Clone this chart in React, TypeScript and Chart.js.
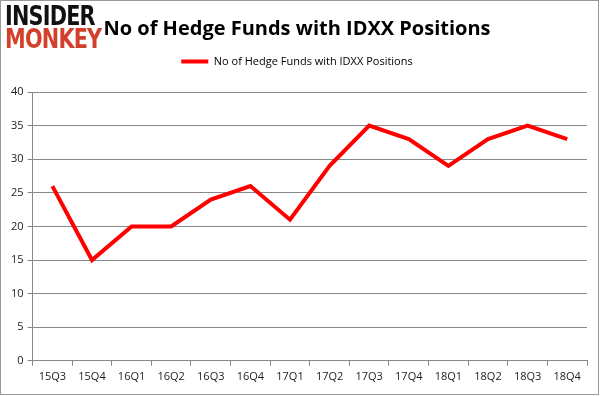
import React, { useEffect, useRef } from "react";
import { Chart, registerables } from "chart.js";

Chart.register(...registerables);

const categories = ["15Q3", "15Q4", "16Q1", "16Q2", "16Q3", "16Q4", "17Q1", "17Q2", "17Q3", "17Q4", "18Q1", "18Q2", "18Q3", "18Q4"];
const hedgeFunds = [26, 15, 20, 20, 24, 26, 21, 29, 35, 33, 29, 33, 35, 33];
const seriesLabel = "No of Hedge Funds with IDXX Positions";
const titleText = "No of Hedge Funds with IDXX Positions";

const legendGap = {
  id: "legendGap",
  beforeInit(chart: any) {
    const lg = chart.legend;
    if (!lg) return;
    const orig = lg.fit;
    lg.fit = function () {
      orig.call(this);
      this.height += 15;
    };
  },
};

export default function App() {
  const ref = useRef<HTMLCanvasElement>(null);
  useEffect(() => {
    if (!ref.current) return;
    const chart = new Chart(ref.current, {
      type: "line",
      data: {
        labels: categories,
        datasets: [
          {
            label: seriesLabel,
            data: hedgeFunds,
            borderColor: "#ff0000",
            backgroundColor: "#ff0000",
            borderWidth: 4,
            pointRadius: 0,
            tension: 0,
          },
        ],
      },
      plugins: [legendGap],
      options: {
        animation: false,
        responsive: false,
        maintainAspectRatio: false,
        layout: { padding: { left: 6, right: 12, top: 6, bottom: 8 } },
        plugins: {
          title: {
            display: true,
            text: titleText,
            color: "#000",
            font: { family: "'Open Sans', sans-serif", size: 20, weight: "bold" },
            padding: { top: 10, bottom: 5 },
          },
          legend: {
            display: true,
            labels: {
              boxWidth: 27,
              boxHeight: 4,
              color: "#222",
              font: { family: "'Open Sans', sans-serif", size: 11 },
              padding: 10,
              generateLabels: () => [
                {
                  text: seriesLabel,
                  fillStyle: "#ff0000",
                  strokeStyle: "#ff0000",
                  lineWidth: 0,
                  hidden: false,
                  datasetIndex: 0,
                },
              ],
            },
          },
          tooltip: { enabled: false },
        },
        scales: {
          x: {
            offset: true,
            grid: {
              display: true,
              drawOnChartArea: false,
              drawTicks: true,
              tickLength: 5,
              offset: true,
              color: "#888",
            },
            border: { display: true, color: "#888" },
            ticks: {
              color: "#222",
              font: { family: "'Open Sans', sans-serif", size: 11 },
              maxRotation: 0,
              padding: 4,
            },
          },
          y: {
            min: 0,
            max: 40,
            ticks: {
              stepSize: 5,
              color: "#222",
              font: { family: "'Open Sans', sans-serif", size: 11 },
              padding: 4,
            },
            grid: { color: "#888", tickLength: 5 },
            border: { display: true, color: "#888" },
          },
        },
      },
    });
    return () => chart.destroy();
  }, []);

  return (
    <div style={{ position: "fixed", left: 0, top: 0, width: 601, height: 396, background: "#fff" }}>
      <div style={{ position: "absolute", left: 0, top: 0, width: 597, height: 393, border: "1px solid #999", boxSizing: "content-box" }} />
      <canvas ref={ref} width={598} height={394} style={{ position: "absolute", left: 1, top: 1 }} />
      <div style={{ position: "absolute", left: 5, top: 4, fontFamily: "'DejaVu Sans', sans-serif", fontWeight: 900, fontSize: 26, lineHeight: "24px", color: "#111", letterSpacing: -1, transform: "scaleX(0.8)", transformOrigin: "left" }}>INSIDER</div>
      <div style={{ position: "absolute", left: 5, top: 27, fontFamily: "'DejaVu Sans', sans-serif", fontWeight: 900, fontSize: 26, lineHeight: "24px", color: "#d2402b", letterSpacing: -1, transform: "scaleX(0.8)", transformOrigin: "left" }}>MONKEY</div>
    </div>
  );
}
